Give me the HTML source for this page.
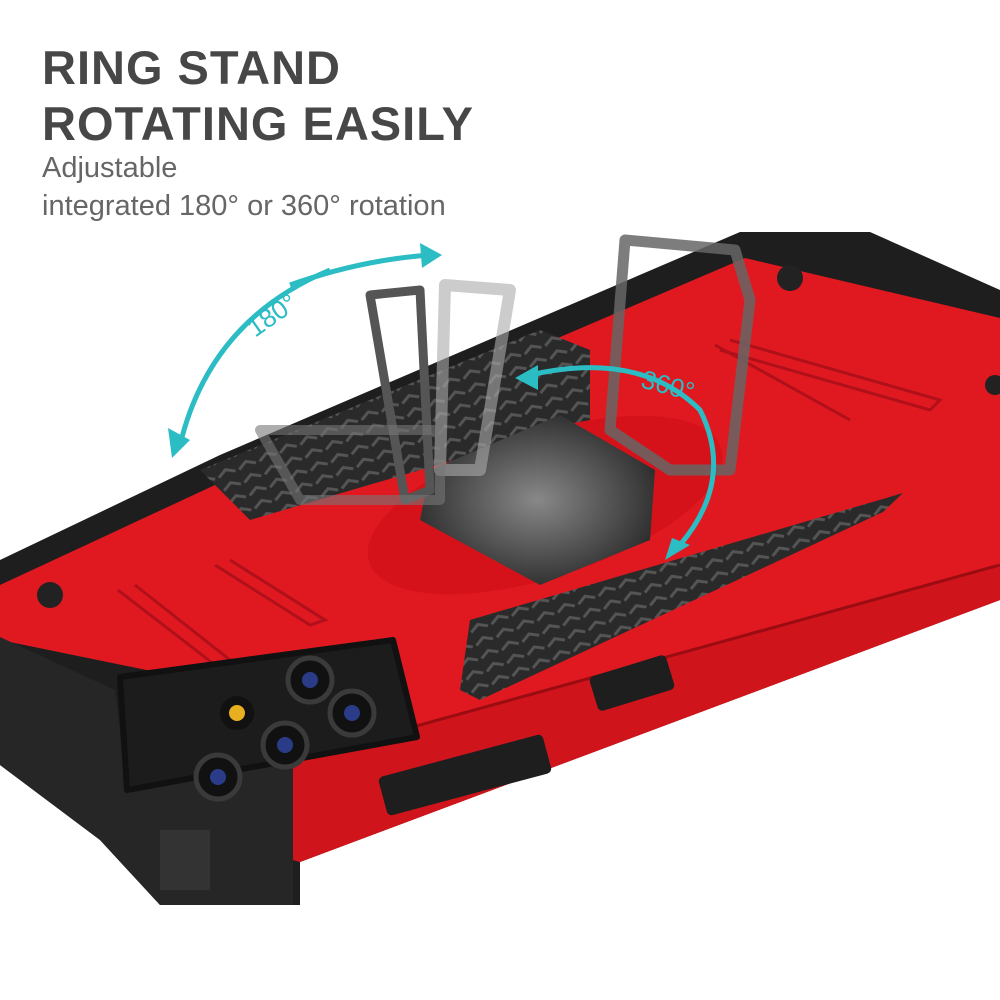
<!DOCTYPE html>
<html><head><meta charset="utf-8"><style>
html,body{margin:0;padding:0;background:#fff;}
.wrap{position:relative;width:1000px;height:1000px;overflow:hidden;background:#fff;font-family:"Liberation Sans",sans-serif;}
.h{position:absolute;left:42px;font-weight:bold;color:#474747;font-size:47px;letter-spacing:1px;}
.s{position:absolute;left:42px;color:#666;font-size:29px;}
svg{position:absolute;left:0;top:0;}
</style></head><body><div class="wrap">
<svg width="1000" height="1000" viewBox="0 0 1000 1000">
<defs>
<pattern id="tex" width="22" height="14" patternUnits="userSpaceOnUse" patternTransform="rotate(-22)">
<rect width="22" height="14" fill="#2a2a2a"/><path d="M2 7 L11 2 L20 7" stroke="#555" stroke-width="3" fill="none"/></pattern>
<radialGradient id="disc" cx="50%" cy="50%" r="60%"><stop offset="0" stop-color="#888"/><stop offset="1" stop-color="#222"/></radialGradient>
</defs>
<polygon points="0,560 220,455 740,232 870,232 1000,290 1000,600 300,862 300,905 160,905 100,840 0,765" fill="#1e1e1e"/>
<polygon points="0,585 230,478 745,258 1000,318 1000,600 300,862 293,860 293,700 0,640" fill="#e01920"/>
<polygon points="420,725 1000,565 1000,600 300,862 293,860 293,760" fill="#d0141b"/>
<line x1="293" y1="760" x2="1000" y2="565" stroke="#9a0c12" stroke-width="3"/>
<polygon points="200,470 540,330 590,350 590,420 250,520" fill="url(#tex)"/>
<polygon points="470,620 903,493 883,512 480,700 460,690" fill="url(#tex)"/>
<g stroke="#b0101a" stroke-width="3" fill="none">
<path d="M118,590 L215,665 L230,660 L135,585"/>
<path d="M215,565 L310,625 L325,620 L230,560"/>
<path d="M730,340 L940,400 L930,410 L720,350"/>
<path d="M715,345 L850,420"/>
</g>
<polygon points="0,637 115,690 127,790 293,760 293,905 160,905 100,840 0,765" fill="#262626"/>
<polygon points="120,677 393,640 417,737 127,790" fill="#1c1c1c" stroke="#111" stroke-width="6" stroke-linejoin="round"/>
<g fill="#111" stroke="#3a3a3a" stroke-width="5">
<circle cx="310" cy="680" r="22"/><circle cx="352" cy="713" r="22"/><circle cx="285" cy="745" r="22"/><circle cx="218" cy="777" r="22"/>
</g>
<g fill="#2a3c88"><circle cx="310" cy="680" r="8"/><circle cx="352" cy="713" r="8"/><circle cx="285" cy="745" r="8"/><circle cx="218" cy="777" r="8"/></g>
<circle cx="237" cy="713" r="17" fill="#111"/><circle cx="237" cy="713" r="8" fill="#e8b020"/>
<rect x="160" y="830" width="50" height="60" fill="#333"/>
<circle cx="50" cy="595" r="13" fill="#222"/><circle cx="790" cy="278" r="13" fill="#222"/><circle cx="995" cy="385" r="10" fill="#222"/>
<rect x="592" y="665" width="80" height="36" rx="5" fill="#1e1e1e" transform="rotate(-17 632 683)"/>
<rect x="380" y="755" width="170" height="40" rx="5" fill="#1e1e1e" transform="rotate(-15 465 775)"/>
<ellipse cx="545" cy="505" rx="185" ry="72" fill="#d5121a" transform="rotate(-18 545 505)"/>
<polygon points="430,470 560,415 655,470 650,540 540,585 420,520" fill="url(#disc)"/>
<g fill="none" stroke-linejoin="round">
<path d="M370 295 L420 290 L430 490 L405 500 Z" stroke="#555" stroke-width="9"/>
<path d="M445 285 L510 290 L480 470 L440 470 Z" stroke="#aaa" stroke-width="12" opacity=".6"/>
<path d="M625 240 L735 250 L750 300 L730 470 L670 470 L610 430 Z" stroke="#666" stroke-width="11" opacity=".85"/>
<path d="M260 430 L440 430 L440 500 L300 500 Z" stroke="#777" stroke-width="10" opacity=".6"/>
</g>
<g fill="none" stroke="#2bbcc4" stroke-width="5">
<path d="M180 445 Q210 320 330 270"/>
<path d="M290 285 Q360 260 430 255"/>
<path d="M530 375 Q640 350 700 410 Q735 480 680 545"/>
</g>
<g fill="#2bbcc4">
<polygon points="172,458 168,428 190,440"/>
<polygon points="442,255 420,243 422,268"/>
<polygon points="515,378 538,365 538,390"/>
<polygon points="665,560 690,545 672,538"/>
</g>
<text x="240" y="330" fill="#2bbcc4" font-family="Liberation Sans,sans-serif" font-size="26" transform="rotate(-35 260 310)">180°</text>
<text x="640" y="395" fill="#2bbcc4" font-family="Liberation Sans,sans-serif" font-size="26" transform="rotate(15 670 390)">360°</text>
</svg>
<div class="h" style="top:40px">RING STAND</div>
<div class="h" style="top:96px">ROTATING EASILY</div>
<div class="s" style="top:152px">Adjustable</div>
<div class="s" style="top:190px">integrated 180° or 360° rotation</div>
</div></body></html>
